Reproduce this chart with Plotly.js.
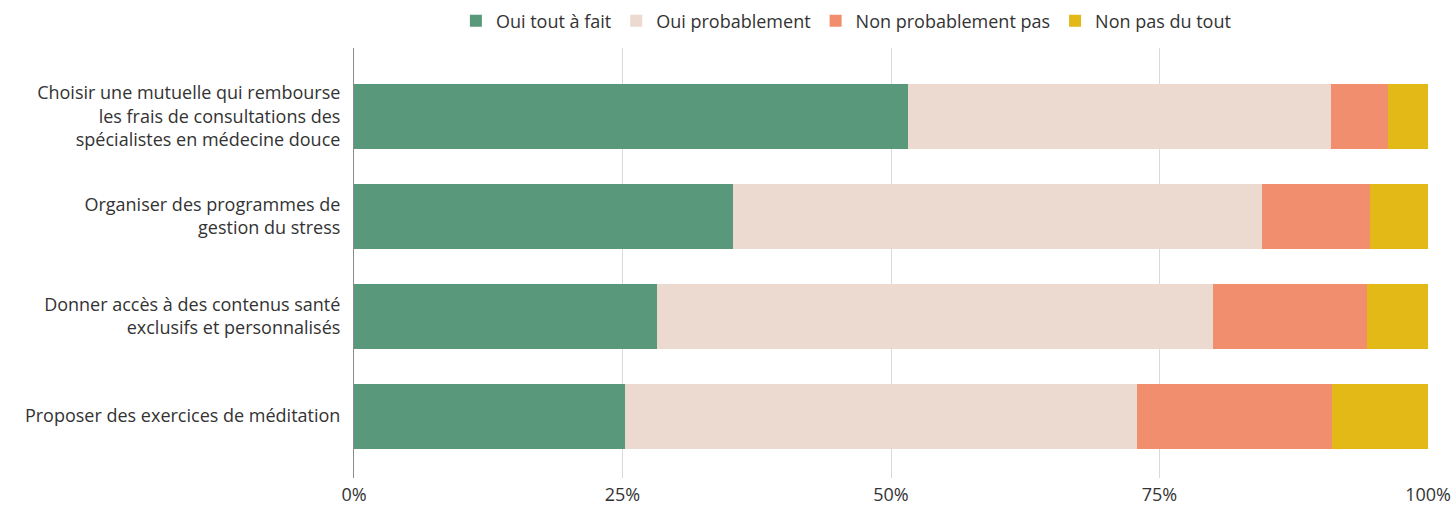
<!DOCTYPE html>
<html>
<head>
<meta charset="utf-8">
<script src="https://cdn.plot.ly/plotly-3.0.1.min.js"></script>
<style>html,body{margin:0;padding:0;background:#fff;}#chart{width:1456px;height:511px;}</style>
</head>
<body>
<div id="chart"></div>
<script>
const categories = [
  "Choisir une mutuelle qui rembourse<br>les frais de consultations des<br>spécialistes en médecine douce",
  "Organiser des programmes de<br>gestion du stress",
  "Donner accès à des contenus santé<br>exclusifs et personnalisés",
  "Proposer des exercices de méditation"
];
const seriesNames = ["Oui tout à fait", "Oui probablement", "Non probablement pas", "Non pas du tout"];
const ouiToutAFait = [51.6, 35.3, 28.2, 25.2];
const ouiProbablement = [39.4, 49.2, 51.8, 47.7];
const nonProbablementPas = [5.3, 10.1, 14.3, 18.2];
const nonPasDuTout = [3.7, 5.4, 5.7, 8.9];
const colors = ["#5a987b", "#ecdad0", "#f08e6e", "#e2b916"];
const tickVals = [0, 25, 50, 75, 100];
const tickText = ["0%", "25%", "50%", "75%", "100%"];

const values = [ouiToutAFait, ouiProbablement, nonProbablementPas, nonPasDuTout];
const traces = values.map((v, i) => ({
  type: "bar",
  orientation: "h",
  name: seriesNames[i],
  x: v,
  y: categories,
  marker: { color: colors[i], line: { width: 0 } },
  hoverinfo: "none"
}));

const font = { family: "'Open Sans', sans-serif", size: 18, color: "#333333" };
const layout = {
  width: 1456,
  height: 511,
  barmode: "stack",
  bargap: 0.35,
  font: font,
  paper_bgcolor: "#ffffff",
  plot_bgcolor: "#ffffff",
  margin: { l: 354, r: 28, t: 48, b: 33 },
  showlegend: true,
  legend: {
    orientation: "h",
    x: 0.458,
    xanchor: "center",
    y: 0.995,
    yanchor: "top",
    yref: "container",
    font: font,
    traceorder: "normal",
    itemwidth: 30
  },
  xaxis: {
    range: [0, 100],
    tickvals: tickVals,
    ticktext: tickText,
    showgrid: true,
    gridcolor: "#d9d9d9",
    gridwidth: 1,
    zeroline: false,
    showline: false,
    ticks: "",
    ticklabelstandoff: 4,
    fixedrange: true
  },
  yaxis: {
    type: "category",
    range: [3.62, -0.685],
    showgrid: false,
    zeroline: false,
    showline: true,
    linecolor: "#8c8c8c",
    linewidth: 1,
    ticks: "",
    ticklabelstandoff: 9,
    fixedrange: true
  }
};

Plotly.newPlot("chart", traces, layout, { displayModeBar: false, staticPlot: true });
</script>
</body>
</html>
